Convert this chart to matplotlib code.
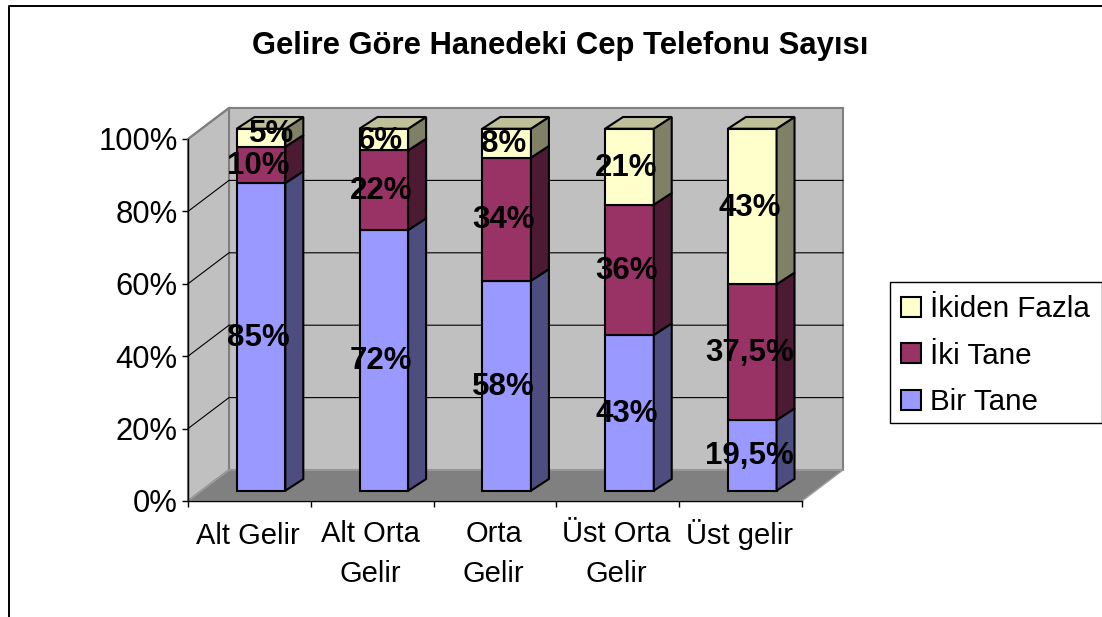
import matplotlib
matplotlib.use("Agg")
import matplotlib.pyplot as plt
import numpy as np
from matplotlib.lines import Line2D
from matplotlib.patches import Patch, Polygon, Rectangle

plt.rcParams['font.family'] = ['Liberation Sans', 'DejaVu Sans']

categories = ['Alt Gelir', 'Alt Orta\nGelir', 'Orta\nGelir', 'Üst Orta\nGelir', 'Üst gelir']
bir_tane = [85, 72, 58, 43, 19.5]
iki_tane = [10, 22, 34, 36, 37.5]
ikiden_fazla = [5, 6, 8, 21, 43]
bir_labels = ['85%', '72%', '58%', '43%', '19,5%']
iki_labels = ['10%', '22%', '34%', '36%', '37,5%']
fazla_labels = ['5%', '6%', '8%', '21%', '43%']
y_ticks = [0, 20, 40, 60, 80, 100]

W, H = 1102, 617
fig = plt.figure(figsize=(W / 100, H / 100), dpi=100)
fig.patch.set_facecolor('white')

# front plane of the fake 3d box
left, right, bottom, top = 188, 802, 501, 139
ax = fig.add_axes([left / W, 1 - bottom / H, (right - left) / W, (bottom - top) / H])
ax.set_xlim(0, 5)
ax.set_ylim(0, 100)
ax.patch.set_alpha(0)

# depth in data units
depth_x = 41 / ((right - left) / 5)
depth_y = 31 / ((bottom - top) / 100)


def pt(x, y, d):
    return (x + d * depth_x, y + d * depth_y)


def poly(points, face, edge='none', lw=0, z=1):
    ax.add_patch(Polygon(points, closed=True, facecolor=face, edgecolor=edge,
                         linewidth=lw, clip_on=False, zorder=z, joinstyle='miter'))


# walls and floor
poly([pt(0, 0, 1), pt(5, 0, 1), pt(5, 100, 1), pt(0, 100, 1)], '#C0C0C0', '#808080', 1.5)
poly([pt(0, 0, 0), pt(0, 0, 1), pt(0, 100, 1), pt(0, 100, 0)], '#C0C0C0', '#808080', 1.5)
for y in y_ticks[1:-1]:
    xs, ys = zip(pt(0, y, 0), pt(0, y, 1), pt(5, y, 1))
    ax.plot(xs, ys, color='black', lw=0.8, clip_on=False, zorder=2)
poly([pt(0, 0, 0), pt(5, 0, 0), pt(5, 0, 1), pt(0, 0, 1)], '#808080', '#A0A0A0', 1, z=3)
ax.plot(*zip(pt(0, 100, 0), pt(0, 100, 1)), color='#808080', lw=1.5, clip_on=False, zorder=3)

# stacked bars
bar_w = 0.396
bar_shift = -0.016
side_extra = 0.02
d0, d1 = 0.332, 0.71
series = [
    (bir_tane, bir_labels, '#9999FF', '#4D4D80'),
    (iki_tane, iki_labels, '#993366', '#4D1A33'),
    (ikiden_fazla, fazla_labels, '#FFFFCC', '#808066'),
]
centers = np.arange(len(categories)) + 0.5
base = np.zeros(len(categories))
for values, labels, face, side in series:
    for c, b, v in zip(centers, base, values):
        x0, x1 = c + bar_shift - bar_w / 2, c + bar_shift + bar_w / 2
        poly([pt(x0, b, d0), pt(x1, b, d0), pt(x1, b + v, d0), pt(x0, b + v, d0)], face, 'black', 1.5, z=5)
        poly([pt(x1, b, d0), pt(x1 + side_extra, b, d1), pt(x1 + side_extra, b + v, d1), pt(x1, b + v, d0)],
             side, 'black', 1.5, z=5)
    base = base + np.array(values)
for c, t in zip(centers, base):
    x0, x1 = c + bar_shift - bar_w / 2, c + bar_shift + bar_w / 2
    poly([pt(x0, t, d0), pt(x1, t, d0), pt(x1 + side_extra, t, d1), pt(x0 + side_extra, t, d1)],
         '#BFBF99', 'black', 1.5, z=5)

# data labels, drawn after all bars
base = np.zeros(len(categories))
for values, labels, face, side in series:
    for c, b, v, lab in zip(centers, base, values, labels):
        lx, ly = pt(c + bar_shift - 0.024, b + v / 2 - 0.3, d0)
        if lab == '5%':  # this one sits shifted in the original
            lx, ly = lx + 0.11, ly + 1.2
        ax.text(lx, ly, lab, ha='center', va='center', fontsize=22.5, fontweight='bold',
                color='black', zorder=8)
    base = base + np.array(values)

# axes
for s in ['top', 'right']:
    ax.spines[s].set_visible(False)
for s in ['left', 'bottom']:
    ax.spines[s].set_linewidth(1)
    ax.spines[s].set_zorder(6)
ax.set_yticks(y_ticks)
ax.set_yticklabels([f'{v}%' for v in y_ticks], fontsize=22.3)
ax.set_xticks(np.arange(len(categories) + 1))
ax.set_xticklabels([])
ax.tick_params(axis='x', which='major', length=4.5, width=1)
ax.tick_params(axis='y', length=4, width=1, pad=3.5)

# category names: baseline of the last line is fixed so Ü does not push them down
for c, cat in zip(centers, categories):
    last_baseline = 544 if '\n' not in cat else 582
    ax.annotate(cat, xy=(c, 0), xytext=(-1, -(last_baseline - bottom) * 0.72), textcoords='offset points',
                ha='center', va='baseline', fontsize=21, linespacing=1.56, annotation_clip=False)

fig.text(560 / W, 1 - 46 / H, 'Gelire Göre Hanedeki Cep Telefonu Sayısı', ha='center', va='center',
         fontsize=22.3, fontweight='bold')

# legend, frame drawn apart since the entries sit a bit low inside it
fig.add_artist(Rectangle((890 / W, 1 - 423 / H), 211.5 / W, 141.5 / H, facecolor='white',
                         edgecolor='black', linewidth=1, transform=fig.transFigure, zorder=3))
handles = [Patch(facecolor=f, edgecolor='black', linewidth=1.5) for f in ['#FFFFCC', '#993366', '#9999FF']]
leg = fig.legend(handles, ['İkiden Fazla', 'İki Tane', 'Bir Tane'], loc='upper left',
                 bbox_to_anchor=(891 / W, 1 - 285 / H), bbox_transform=fig.transFigure,
                 fontsize=21.3, frameon=False,
                 handlelength=0.68, handleheight=0.68, handletextpad=0.3, labelspacing=0.62,
                 borderpad=0.35, borderaxespad=0)
leg.set_zorder(4)

# outer chart frame
fig.add_artist(Line2D([8.5 / W, 8.5 / W, 1], [0, 1 - 5.5 / H, 1 - 5.5 / H], color='black', lw=1.4))

fig.savefig('out.png', dpi=100)
